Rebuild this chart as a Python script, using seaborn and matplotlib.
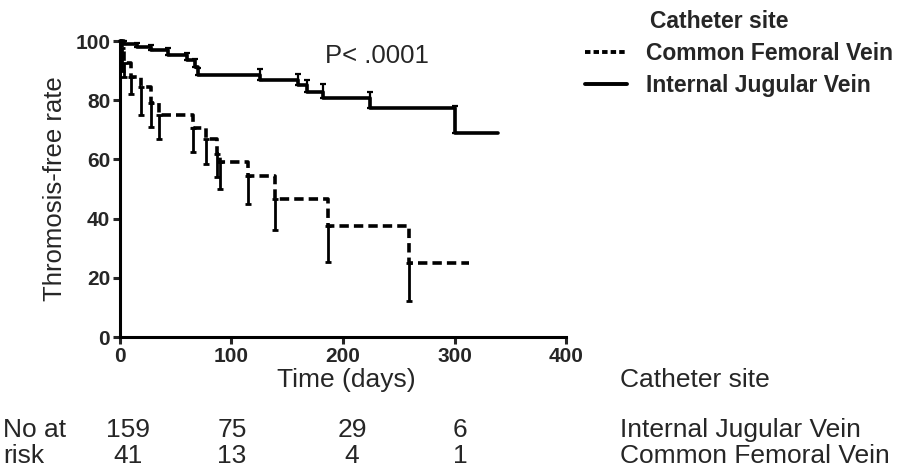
import numpy as np
import pandas as pd
import seaborn as sns
import matplotlib.pyplot as plt
from matplotlib.lines import Line2D
from matplotlib import font_manager

# step curves (time in days, thrombosis-free %)
ijv_time = [0, 4, 15, 28, 43, 60, 67, 70, 126, 160, 168, 182, 224, 300]
ijv_surv = [100, 99, 98, 97, 95.3, 93.6, 91.3, 88.5, 86.8, 85.1, 82.9, 80.6, 77.5, 68.8]
ijv_upper = [100, 100, 99.5, 98.8, 97.5, 96, 94, 91, 90.4, 88.9, 87, 85.4, 82.9, 78]
ijv_end = 339

cfv_time = [0, 2, 4, 10, 19, 28, 35, 66, 77, 87, 90, 115, 139, 187, 259]
cfv_surv = [100, 97.5, 92.7, 88, 84.6, 79, 75, 70.5, 67, 62, 59, 54.5, 46.6, 37.4, 25]
cfv_lower = [100, 90, 88, 82, 75, 71, 67, 62.6, 58.4, 54, 50, 44.8, 36, 25.3, 12]
cfv_end = 313

sites = ['Common Femoral Vein', 'Internal Jugular Vein']
risk_times = [0, 100, 200, 300]
risk_ijv = [159, 75, 29, 6]
risk_cfv = [41, 13, 4, 1]

sns.set_style('ticks')
plt.rcParams['font.family'] = ['Liberation Sans', 'DejaVu Sans']

installed = {f.name for f in font_manager.fontManager.ttflist}
if 'Liberation Sans Narrow' in installed:
    table_font, table_size = 'Liberation Sans Narrow', 22
else:
    table_font, table_size = 'Liberation Sans', 19


def steps(site, times, surv, end):
    return pd.DataFrame({'Time': list(times) + [end],
                         'Rate': list(surv) + [surv[-1]],
                         'Site': site})


df = pd.concat([steps(sites[0], cfv_time, cfv_surv, cfv_end),
                steps(sites[1], ijv_time, ijv_surv, ijv_end)], ignore_index=True)

fig = plt.figure(figsize=(9.22, 4.72), dpi=100)
ax = fig.add_axes([0.130, 0.286, 0.484, 0.627])

sns.lineplot(data=df, x='Time', y='Rate', style='Site', style_order=sites,
             dashes={sites[0]: (2.6, 1.4), sites[1]: ''}, color='black',
             drawstyle='steps-post', estimator=None, sort=False,
             linewidth=2.6, legend=False, ax=ax, clip_on=False)

# one-sided error bars at each step
t = np.array(cfv_time[1:]); s = np.array(cfv_surv[1:]); lo = np.array(cfv_lower[1:])
ax.errorbar(t, s, yerr=[s - lo, np.zeros_like(s)], fmt='none', ecolor='black',
            elinewidth=2, capsize=2.5, capthick=2)
t = np.array(ijv_time[1:]); s = np.array(ijv_surv[1:]); hi = np.array(ijv_upper[1:])
ax.errorbar(t, s, yerr=[np.zeros_like(s), hi - s], fmt='none', ecolor='black',
            elinewidth=1.6, capsize=2.5, capthick=1.6, clip_on=False)

ax.set_xlim(0, 400)
ax.set_ylim(0, 100)
ax.set_xticks([0, 100, 200, 300, 400])
ax.set_yticks([0, 20, 40, 60, 80, 100])
ax.set_xlabel('')
ax.set_ylabel('Thromosis-free rate', fontsize=18.5, labelpad=6)
ax.tick_params(width=2.2, length=5, labelsize=15, pad=2)
for label in ax.get_xticklabels() + ax.get_yticklabels():
    label.set_fontweight('bold')
for side in ['left', 'bottom']:
    ax.spines[side].set_linewidth(2.2)
    ax.spines[side].set_color('black')
sns.despine(ax=ax)

ax.text(0.46, 0.95, 'P< .0001', transform=ax.transAxes, fontsize=18.5,
        ha='left', va='center')

# legend
fig.text(650 / 922, 1 - 22 / 472, 'Catheter site', fontsize=16.5,
         fontweight='bold', ha='left', va='center')
handles = [Line2D([], [], color='black', lw=2.8, ls=(0, (1.4, 0.8))),
           Line2D([], [], color='black', lw=2.8)]
leg = fig.legend(handles, sites, loc='upper left',
                 bbox_to_anchor=(0.634, 0.91), frameon=False,
                 prop={'weight': 'bold', 'size': 16.5}, handlelength=1.85,
                 handletextpad=0.85, labelspacing=0.38, borderaxespad=0,
                 borderpad=0)

# number at risk table
tkw = dict(family=table_font, fontsize=table_size, va='center')
fig.text(0.376, 1 - 380 / 472, 'Time (days)', ha='center', **tkw)
fig.text(0.672, 1 - 380 / 472, 'Catheter site', ha='left', **tkw)
fig.text(0.003, 1 - 430 / 472, 'No at', ha='left', **tkw)
fig.text(0.003, 1 - 456 / 472, 'risk', ha='left', **tkw)
fig.text(0.672, 1 - 430 / 472, 'Internal Jugular Vein', ha='left', **tkw)
fig.text(0.672, 1 - 456 / 472, 'Common Femoral Vein', ha='left', **tkw)
col_x = [128, 232, 352, 460]
for xp, a, b in zip(col_x, risk_ijv, risk_cfv):
    fig.text(xp / 922, 1 - 430 / 472, str(a), ha='center', **tkw)
    fig.text(xp / 922, 1 - 456 / 472, str(b), ha='center', **tkw)

fig.savefig('out.png', dpi=100)
